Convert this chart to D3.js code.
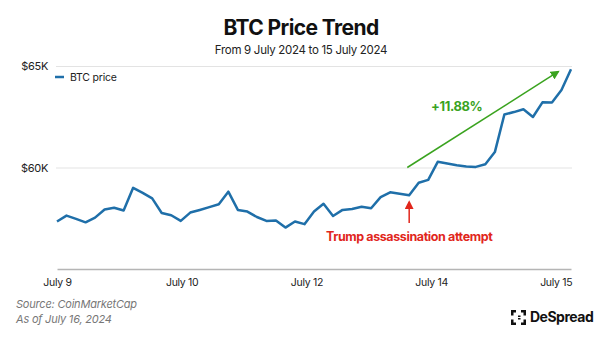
<!DOCTYPE html>
<html>
<head>
<meta charset="utf-8">
<script src="https://cdnjs.cloudflare.com/ajax/libs/d3/7.8.5/d3.min.js"></script>
<style>
  body { margin: 0; background: #fff; }
  svg { display: block; font-family: Inter, "Liberation Sans", sans-serif; }
</style>
</head>
<body>
<div class="main"></div>
<script>
// 3-hourly BTC closes, 9 Jul -> 15 Jul 2024
let prices = [
  57340, 57630, 57470, 57300, 57530, 57930, 58020, 57880, 59000, 58750,
  58480, 57760, 57650, 57370, 57780, 57910, 58050, 58190, 58810, 57910,
  57830, 57560, 57370, 57390, 57040, 57340, 57210, 57830, 58210, 57610,
  57910, 57960, 58070, 57990, 58540, 58780, 58710, 58630, 59250, 59390,
  60280, 60200, 60110, 60050, 60030, 60160, 60760, 62610, 62730, 62870,
  62490, 63210, 63200, 63820, 64840
];
let tickLabels = ['July 9', 'July 10', 'July 12', 'July 14', 'July 15'];
let tickIndex = [0, 13.1, 26.2, 39.3, 52.4];
let yTicks = [60000, 65000];
let seriesName = 'BTC price';

let opts = {
  width: 600,
  height: 338,
  left: 57,
  right: 571,
  top: 66,
  bottom: 269
};

let svg = d3.select('.main').append('svg')
  .attr('width', opts.width)
  .attr('height', opts.height);

svg.append('rect').attr('width', opts.width).attr('height', opts.height).attr('fill', '#fff');

let x = d3.scaleLinear().domain([0, prices.length - 1]).range([opts.left, opts.right]);
let y = d3.scaleLinear().domain([55000, 65000]).range([opts.bottom, opts.top]);

// title
svg.append('text')
  .attr('x', 301).attr('y', 35)
  .attr('text-anchor', 'middle')
  .attr('font-size', 21).attr('font-weight', 700)
  .attr('letter-spacing', -0.6)
  .attr('fill', '#111')
  .text('BTC Price Trend');

svg.append('text')
  .attr('x', 301).attr('y', 54)
  .attr('text-anchor', 'middle')
  .attr('font-size', 11.5)
  .attr('letter-spacing', -0.3)
  .attr('fill', '#222')
  .text('From 9 July 2024 to 15 July 2024');

// y axis + gridlines
let yAxis = svg.append('g')
  .attr('transform', `translate(${opts.left - 1},0)`)
  .call(d3.axisLeft(y)
    .tickValues(yTicks)
    .tickSize(-(opts.right - opts.left + 2))
    .tickPadding(8)
    .tickFormat(d => `$${d / 1000}K`));
yAxis.select('.domain').remove();
yAxis.selectAll('line').attr('stroke', '#e3e3e3');
yAxis.selectAll('text')
  .attr('font-family', 'Inter, sans-serif')
  .attr('font-size', 11).attr('fill', '#222')
  .attr('letter-spacing', -0.3);

// x axis
let xAxis = svg.append('g')
  .attr('transform', `translate(0,${opts.bottom})`)
  .call(d3.axisBottom(x)
    .tickValues(tickIndex)
    .tickSize(0)
    .tickPadding(10)
    .tickFormat((d, i) => tickLabels[i]));
xAxis.select('.domain').attr('stroke', '#b5b5b5').attr('stroke-width', 1.5);
xAxis.selectAll('text')
  .attr('font-family', 'Inter, sans-serif')
  .attr('font-size', 10.5).attr('fill', '#222')
  .attr('letter-spacing', -0.3);

// legend
svg.append('line')
  .attr('x1', 55).attr('x2', 64).attr('y1', 77).attr('y2', 77)
  .attr('stroke', '#1f6fa9').attr('stroke-width', 2.5);
svg.append('text')
  .attr('x', 70).attr('y', 81)
  .attr('font-size', 10.5).attr('fill', '#222')
  .attr('letter-spacing', -0.2)
  .text(seriesName);

// markers
let defs = svg.append('defs');
defs.append('marker')
  .attr('id', 'head-green')
  .attr('viewBox', '0 0 10 10').attr('refX', 8).attr('refY', 5)
  .attr('markerWidth', 6).attr('markerHeight', 6)
  .attr('orient', 'auto')
  .append('path').attr('d', 'M0,0L10,5L0,10z').attr('fill', '#3aa31f');
defs.append('marker')
  .attr('id', 'head-red')
  .attr('viewBox', '0 0 10 10').attr('refX', 8).attr('refY', 5)
  .attr('markerWidth', 6).attr('markerHeight', 6)
  .attr('orient', 'auto')
  .append('path').attr('d', 'M0,0L10,5L0,10z').attr('fill', '#e1261c');

// price line
let line = d3.line().x((d, i) => x(i)).y(d => y(d));
svg.append('path')
  .datum(prices)
  .attr('d', line)
  .attr('fill', 'none')
  .attr('stroke', '#1f6fa9')
  .attr('stroke-width', 2.5)
  .attr('stroke-linejoin', 'round');

// green trend arrow
svg.append('line')
  .attr('x1', x(36.8)).attr('y1', y(60000))
  .attr('x2', x(52.65)).attr('y2', y(64720))
  .attr('stroke', '#3aa31f').attr('stroke-width', 1.5)
  .attr('marker-end', 'url(#head-green)');
svg.append('text')
  .attr('x', x(42)).attr('y', 111)
  .attr('text-anchor', 'middle')
  .attr('font-size', 13).attr('font-weight', 700)
  .attr('letter-spacing', -0.4)
  .attr('fill', '#3aa31f')
  .text('+11.88%');

// red event arrow
svg.append('line')
  .attr('x1', x(37)).attr('y1', 223)
  .attr('x2', x(37)).attr('y2', 202)
  .attr('stroke', '#e1261c').attr('stroke-width', 1.5)
  .attr('marker-end', 'url(#head-red)');
svg.append('text')
  .attr('x', x(37)).attr('y', 241)
  .attr('text-anchor', 'middle')
  .attr('font-size', 12.5).attr('font-weight', 700)
  .attr('letter-spacing', -0.4)
  .attr('fill', '#e1261c')
  .text('Trump assassination attempt');

// footer
let foot = svg.append('g')
  .attr('font-size', 11).attr('font-style', 'italic').attr('fill', '#777')
  .attr('letter-spacing', -0.2);
foot.append('text').attr('x', 16).attr('y', 308).text('Source: CoinMarketCap');
foot.append('text').attr('x', 16).attr('y', 323).text('As of July 16, 2024');

// DeSpread logo
let logo = svg.append('g').attr('transform', 'translate(511,310)').attr('fill', '#111');
logo.append('path').attr('d', 'M0,0h5v2.5h-2.5v3h-2.5zM0,9.5h2.5v3h2.5v2.5h-5zM10,0h5v5.5h-2.5v-3h-2.5zM12.5,9.5h2.5v5.5h-5v-2.5h2.5zM7,5.5h2.5v1.5h-2.5zM7,8h2.5v1.5h-2.5z');
svg.append('text')
  .attr('x', 530).attr('y', 322)
  .attr('font-size', 14).attr('font-weight', 700)
  .attr('letter-spacing', -0.5)
  .attr('fill', '#111')
  .text('DeSpread');
</script>
</body>
</html>
